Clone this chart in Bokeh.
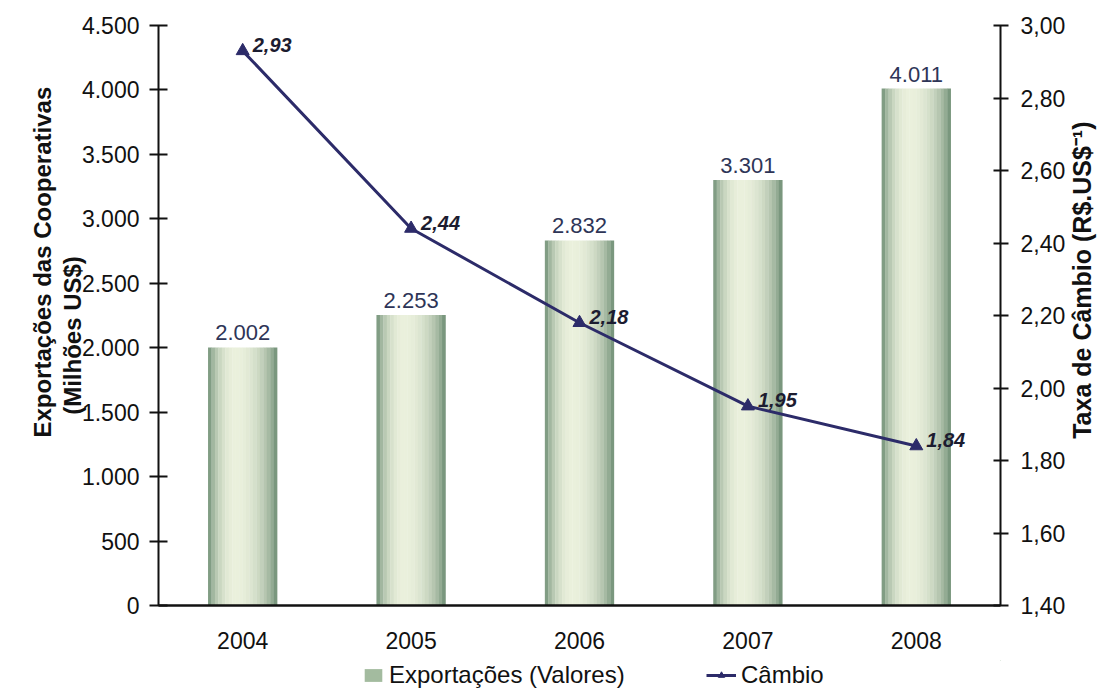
import math

from bokeh.core.properties import value
from bokeh.embed import file_html
from bokeh.layouts import column
from bokeh.models import (CustomJSTickFormatter, FixedTicker, Legend, LegendItem,
                          LinearAxis, Range1d)
from bokeh.plotting import figure
from bokeh.resources import INLINE

# ---- data -------------------------------------------------------------
years = ["2004", "2005", "2006", "2007", "2008"]
exports = [2002, 2253, 2832, 3301, 4011]          # Milhões US$
exchange = [2.93, 2.44, 2.18, 1.95, 1.84]         # R$ por US$
left_ticks = [0, 500, 1000, 1500, 2000, 2500, 3000, 3500, 4000, 4500]
right_ticks = [1.40, 1.60, 1.80, 2.00, 2.20, 2.40, 2.60, 2.80, 3.00]

# ---- styling ----------------------------------------------------------
FONT = "Liberation Sans"
NAVY = "#2c2b69"
BAR_LABEL = "#2e3557"
EDGE = (98, 132, 106)
LIGHT = (234, 240, 220)
SWATCH = "#a3bb9f"
N_STRIPS = 20
BAR_W = 0.41
NBSP = "\u00a0"

xs = [i + 0.5 for i in range(len(years))]

p = figure(width=1112, height=660,
           x_range=Range1d(0, len(years)), y_range=Range1d(left_ticks[0], left_ticks[-1]),
           output_backend="svg", toolbar_location=None,
           min_border_left=158, min_border_right=106,
           min_border_top=25, min_border_bottom=55,
           background_fill_color="white", border_fill_color="white")
p.outline_line_color = None
p.grid.visible = False
p.extra_y_ranges = {"cambio": Range1d(right_ticks[0], right_ticks[-1])}


def strip_color(t):
    """Cylinder-like shading: light band slightly left of centre."""
    peak = 0.40
    if t < peak:
        f = 1 - ((peak - t) / peak) ** 2
    else:
        f = 1 - ((t - peak) / (1 - peak)) ** 2
    f = max(0.0, f) ** 0.7
    r, g, b = (round(e + f * (l - e)) for e, l in zip(EDGE, LIGHT))
    return f"#{r:02x}{g:02x}{b:02x}"


# bars drawn as thin vertical strips to get the shaded look
for k in range(N_STRIPS):
    t = (k + 0.5) / N_STRIPS
    off = -BAR_W / 2 + (k + 0.5) * BAR_W / N_STRIPS
    p.vbar(x=[x + off for x in xs], top=exports, bottom=0,
           width=BAR_W / N_STRIPS * 1.08, fill_color=strip_color(t), line_color=None)

# value labels above bars
p.text(x=xs, y=exports, text=[f"{v:,}".replace(",", ".") for v in exports],
       text_align="center", text_baseline="bottom", y_offset=-7,
       text_font=value(FONT), text_font_size="22px", text_color=BAR_LABEL)

# exchange-rate line
p.line(xs, exchange, y_range_name="cambio", line_color=NAVY, line_width=3)
p.scatter(xs, exchange, y_range_name="cambio", marker="triangle", size=13,
          fill_color=NAVY, line_color=NAVY)
p.text(x=xs, y=exchange, y_range_name="cambio",
       text=[f"{v:.2f}".replace(".", ",") for v in exchange],
       text_align="left", text_baseline="middle", x_offset=10, y_offset=-6,
       text_font=value(FONT), text_font_size="20px", text_font_style="bold italic",
       text_color="#1c1c30")

# ---- axes -------------------------------------------------------------
xa = p.xaxis[0]
xa.ticker = FixedTicker(ticks=xs)
xa.major_label_overrides = {x: y for x, y in zip(xs, years)}
xa.major_tick_line_color = None
xa.minor_tick_line_color = None
xa.major_tick_out = 0
xa.major_tick_in = 0
xa.major_label_standoff = 26
xa.axis_line_width = 2.5
xa.axis_line_color = "#111111"
xa.major_label_text_font = FONT
xa.major_label_text_font_size = "23px"
xa.major_label_text_color = "#111111"

ya = p.yaxis[0]
ya.ticker = FixedTicker(ticks=left_ticks)
ya.formatter = CustomJSTickFormatter(
    code="return tick.toFixed(0).replace(/\\B(?=(\\d{3})+(?!\\d))/g, '.');")
ya.minor_tick_line_color = None
ya.major_tick_out = 9
ya.major_tick_in = 9
ya.major_tick_line_width = 2
ya.axis_line_width = 2
ya.axis_line_color = "#111111"
ya.major_tick_line_color = "#111111"
ya.major_label_standoff = 10
ya.major_label_text_font = FONT
ya.major_label_text_font_size = "23px"
ya.major_label_text_color = "#111111"
# lines padded with no-break spaces so the two lines sit where they belong
ya.axis_label = (NBSP * 16 + "Exportações das Cooperativas\n"
                 + "(Milhões US$)" + NBSP * 6)
ya.axis_label_standoff = -7
ya.axis_label_text_font = FONT
ya.axis_label_text_font_size = "24px"
ya.axis_label_text_font_style = "bold"
ya.axis_label_text_color = "#111111"
ya.axis_label_text_line_height = 1.1

ra = LinearAxis(y_range_name="cambio")
ra.ticker = FixedTicker(ticks=right_ticks)
ra.formatter = CustomJSTickFormatter(code="return tick.toFixed(2).replace('.', ',');")
ra.minor_tick_line_color = None
ra.major_tick_out = 8
ra.major_tick_in = 7
ra.major_tick_line_width = 2
ra.axis_line_width = 2
ra.axis_line_color = "#111111"
ra.major_tick_line_color = "#111111"
ra.major_label_standoff = 12
ra.major_label_text_font = FONT
ra.major_label_text_font_size = "23px"
ra.major_label_text_color = "#111111"
p.add_layout(ra, "right")

# title of the right scale: a bare axis next to it, reading upwards
rt = LinearAxis(y_range_name="cambio")
rt.ticker = FixedTicker(ticks=[])
rt.axis_line_color = None
rt.major_tick_line_color = None
rt.minor_tick_line_color = None
rt.major_tick_out = 0
rt.major_tick_in = 0
rt.major_label_standoff = 0
rt.axis_label_text_font = FONT
rt.axis_label_text_font_size = "25px"
rt.axis_label_text_font_style = "bold"
rt.axis_label_text_color = "#111111"
rt.axis_label_text_line_height = 0.9
rt.axis_label_standoff = 13
props = rt.properties()
if "axis_label_orientation" in props:
    rt.axis_label_orientation = math.pi / 2
if "axis_label_align" in props:
    # anchored at the foot of the axis, pushed up by leading no-break spaces
    rt.axis_label_align = "start"
    rt.axis_label = NBSP * 24 + "Taxa de Câmbio (R$.US$⁻¹)"
else:
    rt.axis_label = "Taxa de Câmbio (R$.US$⁻¹)"
p.add_layout(rt, "right")

# ---- legend strip under the chart ---------------------------------------
# key renderers reuse the series but sit outside this strip's visible ranges
lg = figure(width=1112, height=32, x_range=Range1d(-2, -1), y_range=Range1d(-2, -1),
            output_backend="svg", toolbar_location=None,
            min_border=0, background_fill_color="white", border_fill_color="white")
lg.axis.visible = False
lg.grid.visible = False
lg.outline_line_color = None
bar_key = lg.vbar(x=xs, top=exports, width=0.1, fill_color=SWATCH, line_color=None)
line_key = lg.line(x=xs, y=exchange, line_color=NAVY, line_width=3)
mark_key = lg.scatter(x=xs, y=exchange, marker="triangle", size=11,
                      fill_color=NAVY, line_color=NAVY)

common = dict(border_line_color=None, background_fill_alpha=0, padding=0, margin=0,
              spacing=0, label_standoff=5, label_text_font=FONT,
              label_text_font_size="24px", label_text_color="#111111",
              label_height=24, glyph_height=16)
lg.add_layout(Legend(items=[LegendItem(label="Exportações (Valores)", renderers=[bar_key])],
                     location=(204, 3), glyph_width=22, **common))
lg.add_layout(Legend(items=[LegendItem(label="Câmbio", renderers=[line_key, mark_key])],
                     location=(548, 3), glyph_width=30, **common))

layout = column(p, lg, spacing=0)
open("out.html", "w").write(file_html(layout, INLINE))
